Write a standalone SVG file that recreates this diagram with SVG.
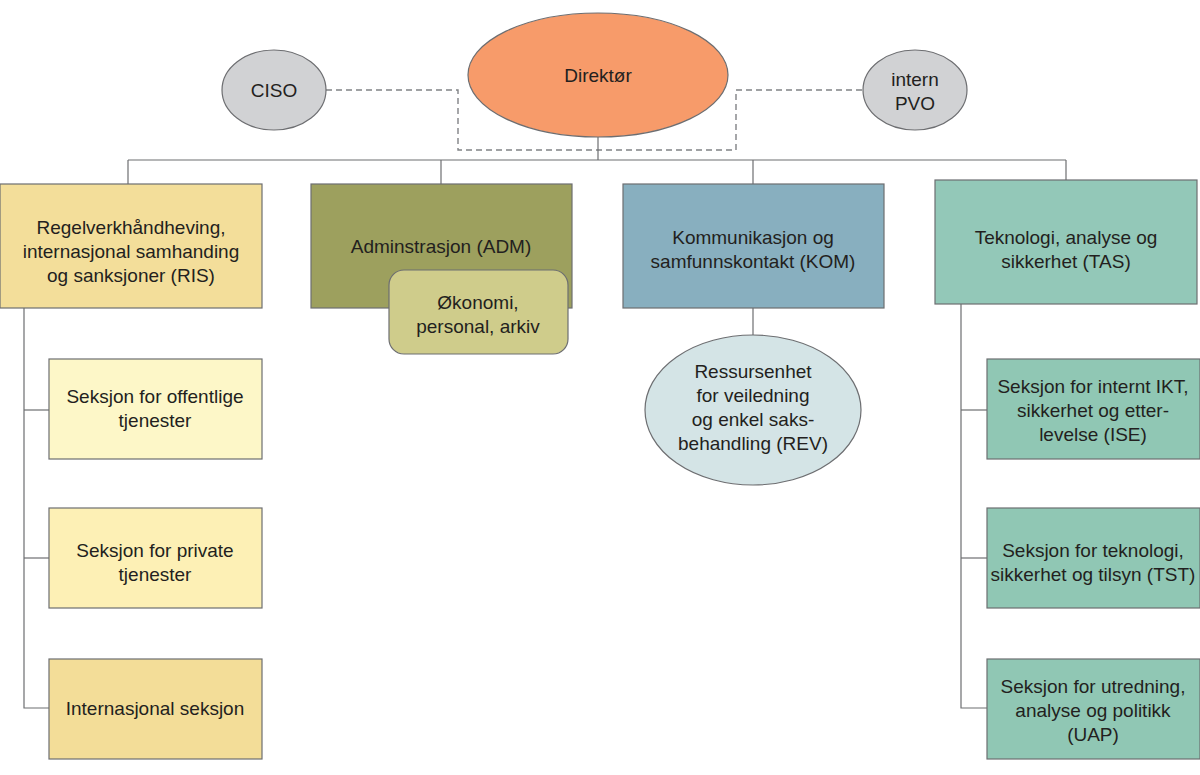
<svg xmlns="http://www.w3.org/2000/svg" width="1200" height="775" viewBox="0 0 1200 775">
<style>
text{font-family:"Liberation Sans",Arial,sans-serif;font-size:19px;fill:#231f20;text-anchor:middle}
.box{stroke:#6d6e71;stroke-width:1.2}
.ln{stroke:#6d6e71;stroke-width:1.2;fill:none}
.dash{stroke:#808285;stroke-width:1.4;fill:none;stroke-dasharray:6 4}
</style>
<rect width="1200" height="775" fill="#fff"/>
<g id="connectors">
<polyline class="dash" points="326,90 458,90 458,150 736,150 736,90 863,90"/>
<line class="ln" x1="598" y1="137" x2="598" y2="160"/>
<line class="ln" x1="128" y1="160" x2="1066" y2="160"/>
<line class="ln" x1="128" y1="160" x2="128" y2="184"/>
<line class="ln" x1="441" y1="160" x2="441" y2="184"/>
<line class="ln" x1="753" y1="160" x2="753" y2="184"/>
<line class="ln" x1="1066" y1="160" x2="1066" y2="180"/>
<polyline class="ln" points="24,308 24,708 49,708"/>
<line class="ln" x1="24" y1="410" x2="49" y2="410"/>
<line class="ln" x1="24" y1="558" x2="49" y2="558"/>
<line class="ln" x1="753" y1="308" x2="753" y2="335"/>
<polyline class="ln" points="961,304 961,708 987,708"/>
<line class="ln" x1="961" y1="410" x2="987" y2="410"/>
<line class="ln" x1="961" y1="558" x2="987" y2="558"/>
</g>
<g id="ciso"><ellipse class="box" cx="274" cy="90" rx="52" ry="40" fill="#d1d2d4"/><text x="274" y="97">CISO</text></g>
<g id="pvo"><ellipse class="box" cx="915" cy="90" rx="52" ry="40" fill="#d1d2d4"/><text x="915" y="86">intern</text><text x="915" y="110">PVO</text></g>
<g id="direktor"><ellipse class="box" cx="598" cy="75" rx="130" ry="62" fill="#f79b6a"/><text x="598" y="82">Direktør</text></g>
<g id="ris"><rect class="box" x="0" y="184" width="262" height="124" fill="#f3de9a"/><text x="131" y="234">Regelverkhåndheving,</text><text x="131" y="258">internasjonal samhanding</text><text x="131" y="282">og sanksjoner (RIS)</text></g>
<g id="adm"><rect class="box" x="311" y="184" width="261" height="124" fill="#9da05e"/><text x="441" y="253">Adminstrasjon (ADM)</text></g>
<g id="okonomi"><rect class="box" x="389" y="270" width="179" height="84" rx="15" fill="#cfcc8b"/><text x="478" y="309">Økonomi,</text><text x="478" y="333">personal, arkiv</text></g>
<g id="kom"><rect class="box" x="623" y="184" width="261" height="124" fill="#88afbf"/><text x="753" y="244">Kommunikasjon og</text><text x="753" y="268">samfunnskontakt (KOM)</text></g>
<g id="rev"><ellipse class="box" cx="753" cy="410" rx="108" ry="75" fill="#d4e4e6"/><text x="753" y="378">Ressursenhet</text><text x="753" y="402">for veiledning</text><text x="753" y="426">og enkel saks-</text><text x="753" y="450">behandling (REV)</text></g>
<g id="tas"><rect class="box" x="935" y="180" width="262" height="124" fill="#93c8b8"/><text x="1066" y="244">Teknologi, analyse og</text><text x="1066" y="268">sikkerhet (TAS)</text></g>
<g id="off"><rect class="box" x="49" y="359" width="213" height="100" fill="#fdf7c8"/><text x="155" y="403">Seksjon for offentlige</text><text x="155" y="427">tjenester</text></g>
<g id="priv"><rect class="box" x="49" y="508" width="213" height="100" fill="#fdf0b5"/><text x="155" y="557">Seksjon for private</text><text x="155" y="581">tjenester</text></g>
<g id="int"><rect class="box" x="49" y="659" width="213" height="100" fill="#f3dd98"/><text x="155" y="715">Internasjonal seksjon</text></g>
<g id="ise"><rect class="box" x="987" y="359" width="213" height="100" fill="#90c7b4"/><text x="1093" y="393">Seksjon for internt IKT,</text><text x="1093" y="417">sikkerhet og etter-</text><text x="1093" y="441">levelse (ISE)</text></g>
<g id="tst"><rect class="box" x="987" y="508" width="213" height="100" fill="#90c7b4"/><text x="1093" y="557">Seksjon for teknologi,</text><text x="1093" y="581">sikkerhet og tilsyn (TST)</text></g>
<g id="uap"><rect class="box" x="987" y="659" width="213" height="100" fill="#90c7b4"/><text x="1093" y="693">Seksjon for utredning,</text><text x="1093" y="717">analyse og politikk</text><text x="1093" y="741">(UAP)</text></g>
</svg>
